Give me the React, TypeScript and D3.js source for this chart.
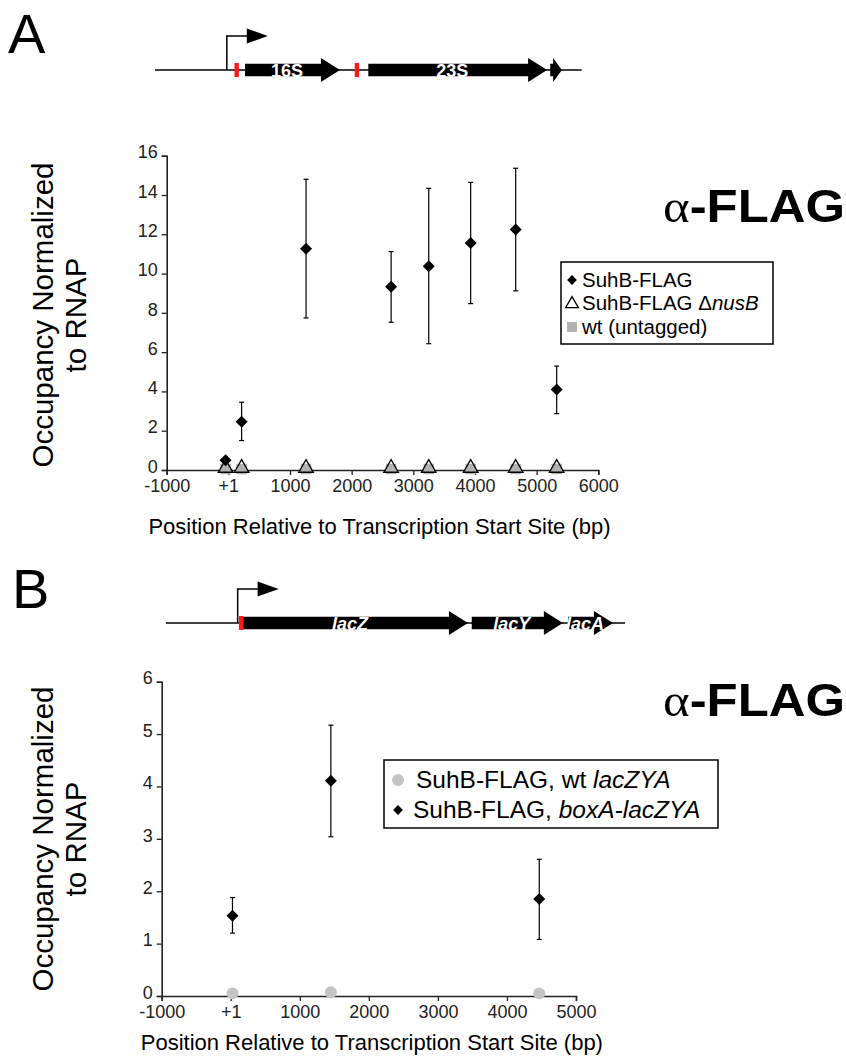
import React, { useEffect, useRef } from 'react';
import * as d3 from 'd3';

const FONT = '"Liberation Sans", Arial, Helvetica, sans-serif';

// ---- panel A (rrn operon) ----
const posA = [-45, 215, 1260, 2640, 3250, 3930, 4660, 5325];
const suhbA = [0.5, 2.46, 11.26, 9.33, 10.37, 11.56, 12.24, 4.1];
const suhbAHi = [0.5, 3.45, 14.8, 11.12, 14.34, 14.64, 15.36, 5.29];
const suhbALo = [0.5, 1.5, 7.74, 7.52, 6.43, 8.47, 9.12, 2.87];
const nusBA = [0.05, 0.05, 0.05, 0.05, 0.05, 0.05, 0.05, 0.05];
const wtA = [0.05, 0.05, 0.05, 0.05, 0.05, 0.05, 0.05, 0.05];
const xTicksA = [-1000, 0, 1000, 2000, 3000, 4000, 5000, 6000];
const yTicksA = [0, 2, 4, 6, 8, 10, 12, 14, 16];
const genesA = [
  { name: '16S', start: 270, end: 1810 },
  { name: '23S', start: 2270, end: 5170 },
  { name: '', start: 5220, end: 5410 },
];
const boxSitesA = [135, 2085];
const lineA = [-1190, 5730];
const promoterA = -25;

// ---- panel B (lac operon) ----
const posB = [25, 1450, 4468];
const boxAB = [1.53, 4.11, 1.85];
const boxABHi = [1.88, 5.17, 2.61];
const boxABLo = [1.2, 3.04, 1.08];
const wtLacB = [0.05, 0.07, 0.05];
const xTicksB = [-1000, 0, 1000, 2000, 3000, 4000, 5000];
const yTicksB = [0, 1, 2, 3, 4, 5, 6];
const genesB = [
  { name: 'lacZ', start: 180, end: 3435 },
  { name: 'lacY', start: 3490, end: 4810 },
  { name: 'lacA', start: 4885, end: 5535 },
];
const boxSitesB = [150];
const lineB = [-940, 5710];
const promoterB = 100;

const xTitle = 'Position Relative to Transcription Start Site (bp)';

function Axes({ x, y, xTicks, yTicks }) {
  const gx = useRef(null);
  const gy = useRef(null);
  useEffect(() => {
    const y0 = y.range()[0];
    const x0 = x.range()[0];
    const ax = d3.axisBottom(x).tickValues(xTicks).tickSizeOuter(0).tickSize(5).tickPadding(4)
      .tickFormat((d) => (d === 0 ? '+1' : String(d)));
    const ay = d3.axisLeft(y).tickValues(yTicks).tickSizeOuter(0).tickSize(5).tickPadding(4)
      .tickFormat((d) => String(d));
    const sx = d3.select(gx.current).attr('transform', `translate(0,${y0})`).call(ax);
    const sy = d3.select(gy.current).attr('transform', `translate(${x0},0)`).call(ay);
    [sx, sy].forEach((s) => {
      s.attr('font-family', FONT).attr('font-size', 18);
      s.selectAll('.domain').attr('stroke', '#222').attr('stroke-width', 1.6);
      s.selectAll('.tick line').attr('stroke', '#222').attr('stroke-width', 1.3);
      s.selectAll('.tick text').attr('fill', '#222');
    });
    sy.selectAll('.tick text').attr('dy', '0.12em');
  }, [x, y, xTicks, yTicks]);
  return (
    <g>
      <g ref={gx} />
      <g ref={gy} />
    </g>
  );
}

function GeneMap({ x, genes, boxes, line, promoter, y0, italic }) {
  const bodyH = 12.5;
  const headH = 24;
  return (
    <g>
      <line x1={x(line[0])} x2={x(line[1])} y1={y0} y2={y0} stroke="#000" strokeWidth={1.5} />
      {genes.map((g, i) => {
        const a = x(g.start);
        const b = x(g.end);
        const head = Math.min(19, (b - a) * 0.75);
        const p = [
          [a, y0 - bodyH / 2], [b - head, y0 - bodyH / 2], [b - head, y0 - headH / 2], [b, y0],
          [b - head, y0 + headH / 2], [b - head, y0 + bodyH / 2], [a, y0 + bodyH / 2],
        ];
        return (
          <g key={i}>
            <path d={d3.line()(p) + 'Z'} fill="#000" />
            {g.name && (
              <text x={(a + b - head) / 2 + 4} y={y0 + 6.5} textAnchor="middle" fill="#fff"
                fontFamily={FONT} fontWeight="bold" fontStyle={italic ? 'italic' : 'normal'} fontSize={18}>
                {g.name}
              </text>
            )}
          </g>
        );
      })}
      {boxes.map((b, i) => (
        <rect key={i} x={x(b) - 2.2} y={y0 - 7} width={4.4} height={14} fill="#ff1a1a" />
      ))}
      <path d={`M${x(promoter)},${y0} V${y0 - 34} H${x(promoter) + 21}`} fill="none" stroke="#000" strokeWidth={1.5} />
      <path d={`M${x(promoter) + 20},${y0 - 41.5} L${x(promoter) + 41},${y0 - 34} L${x(promoter) + 20},${y0 - 26.5}Z`} fill="#000" />
    </g>
  );
}

function ErrorBars({ x, y, pos, lo, hi }) {
  return (
    <g stroke="#000" strokeWidth={1.2}>
      {pos.map((p, i) => (lo[i] === hi[i] ? null : (
        <g key={i}>
          <line x1={x(p)} x2={x(p)} y1={y(lo[i])} y2={y(hi[i])} />
          <line x1={x(p) - 2.5} x2={x(p) + 2.5} y1={y(lo[i])} y2={y(lo[i])} />
          <line x1={x(p) - 2.5} x2={x(p) + 2.5} y1={y(hi[i])} y2={y(hi[i])} />
        </g>
      )))}
    </g>
  );
}

const diamond = d3.symbol(d3.symbolSquare, 72)();
const triangle = d3.symbol(d3.symbolTriangle, 92)();
const square = d3.symbol(d3.symbolSquare, 110)();

function YTitle({ cy }) {
  return (
    <g fontFamily={FONT} fontSize={29.5} fill="#000" textAnchor="middle">
      <text transform={`translate(53,${cy}) rotate(-90)`}>Occupancy Normalized</text>
      <text transform={`translate(86,${cy}) rotate(-90)`}>to RNAP</text>
    </g>
  );
}

function FlagLabel({ x, y }) {
  return (
    <text x={x} y={y} fontSize={47} textLength={182} lengthAdjust="spacingAndGlyphs">
      <tspan fontFamily='"Liberation Serif", "DejaVu Serif", serif'>α</tspan>
      <tspan fontFamily={FONT} fontWeight="bold">-FLAG</tspan>
    </text>
  );
}

export default function App() {
  const xA = d3.scaleLinear().domain([-1000, 6000]).range([166.7, 598.3]);
  const yA = d3.scaleLinear().domain([0, 16]).range([470, 155.7]);
  const xB = d3.scaleLinear().domain([-1000, 5000]).range([161.7, 576]);
  const yB = d3.scaleLinear().domain([0, 6]).range([996, 681.7]);

  return (
    <svg width={846} height={1056} style={{ position: 'absolute', left: 0, top: 0, background: '#fff' }}>
      <rect width={846} height={1056} fill="#fff" />
      {/* panel A */}
      <text x={8} y={53} fontFamily={FONT} fontSize={56}>A</text>
      <GeneMap x={xA} genes={genesA} boxes={boxSitesA} line={lineA} promoter={promoterA} y0={70} italic={false} />
      <YTitle cy={315} />
      <Axes x={xA} y={yA} xTicks={xTicksA} yTicks={yTicksA} />
      <text x={(166.7 + 598.3) / 2 - 3} y={534} textAnchor="middle" fontFamily={FONT} fontSize={22}>{xTitle}</text>
      <ErrorBars x={xA} y={yA} pos={posA} lo={suhbALo} hi={suhbAHi} />
      {posA.map((p, i) => (
        <path key={'w' + i} d={square} transform={`translate(${xA(p)},${yA(wtA[i])})`} fill="#b2b2b2" />
      ))}
      {posA.map((p, i) => (
        <path key={'n' + i} d={triangle} transform={`translate(${xA(p)},${yA(nusBA[i]) - 1})`} fill="none" stroke="#000" strokeWidth={1.3} />
      ))}
      {posA.map((p, i) => (
        <path key={'s' + i} d={diamond} transform={`translate(${xA(p)},${yA(suhbA[i])}) rotate(45)`} fill="#000" />
      ))}
      <FlagLabel x={663} y={222} />
      <g fontFamily={FONT} fontSize={20.5}>
        <rect x={561} y={262} width={212} height={82} fill="#fff" stroke="#000" strokeWidth={1.5} />
        <path d={d3.symbol(d3.symbolSquare, 48)()} transform="translate(572,280) rotate(45)" fill="#000" />
        <text x={582} y={287}>SuhB-FLAG</text>
        <path d={d3.symbol(d3.symbolTriangle, 70)()} transform="translate(572,304)" fill="none" stroke="#000" strokeWidth={1.3} />
        <text x={582} y={310}>SuhB-FLAG <tspan>Δ</tspan><tspan fontStyle="italic">nusB</tspan></text>
        <rect x={567} y={322} width={10} height={10} fill="#b2b2b2" />
        <text x={582} y={334}>wt (untagged)</text>
      </g>

      {/* panel B */}
      <text x={12} y={608} fontFamily={FONT} fontSize={56}>B</text>
      <GeneMap x={xB} genes={genesB} boxes={boxSitesB} line={lineB} promoter={promoterB} y0={623} italic={true} />
      <YTitle cy={839} />
      <Axes x={xB} y={yB} xTicks={xTicksB} yTicks={yTicksB} />
      <text x={(161.7 + 576) / 2 + 3} y={1050} textAnchor="middle" fontFamily={FONT} fontSize={22}>{xTitle}</text>
      {posB.map((p, i) => (
        <circle key={'c' + i} cx={xB(p)} cy={yB(wtLacB[i])} r={6} fill="#c4c4c4" />
      ))}
      <ErrorBars x={xB} y={yB} pos={posB} lo={boxABLo} hi={boxABHi} />
      {posB.map((p, i) => (
        <path key={'d' + i} d={diamond} transform={`translate(${xB(p)},${yB(boxAB[i])}) rotate(45)`} fill="#000" />
      ))}
      <FlagLabel x={663} y={716} />
      <g fontFamily={FONT} fontSize={24.5}>
        <rect x={384} y={760} width={334} height={68} fill="#fff" stroke="#000" strokeWidth={1.5} />
        <circle cx={398} cy={780} r={6} fill="#c4c4c4" />
        <text x={416} y={788}>SuhB-FLAG, wt <tspan fontStyle="italic">lacZYA</tspan></text>
        <path d={d3.symbol(d3.symbolSquare, 48)()} transform="translate(398,810) rotate(45)" fill="#000" />
        <text x={413} y={818}>SuhB-FLAG, <tspan fontStyle="italic">boxA-lacZYA</tspan></text>
      </g>
    </svg>
  );
}
